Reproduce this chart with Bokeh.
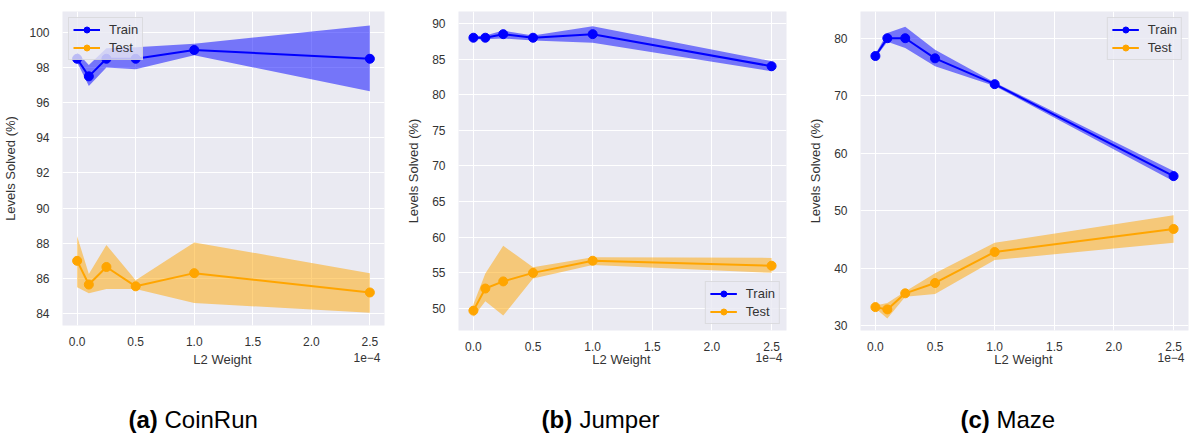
from bokeh.plotting import figure
from bokeh.layouts import row, column
from bokeh.models import FixedTicker, PrintfTickFormatter, Range1d
from bokeh.core.properties import value
from bokeh.embed import file_html
from bokeh.resources import INLINE

# L2 weight, in units of 1e-4
l2_weight = [0.0, 0.1, 0.25, 0.5, 1.0, 2.5]
x_ticks = [0.0, 0.5, 1.0, 1.5, 2.0, 2.5]
x_label = "L2 Weight"
x_offset_label = "1e\u22124"
y_label = "Levels Solved (%)"
panel_tags = ["(a)", "(b)", "(c)"]
panel_names = ["CoinRun", "Jumper", "Maze"]

coinrun_train = [98.5, 97.5, 98.5, 98.5, 99.0, 98.5]
coinrun_train_lo = [98.3, 96.95, 98.0, 97.9, 98.7, 96.65]
coinrun_train_hi = [98.85, 98.15, 99.1, 99.15, 99.35, 100.4]
coinrun_test = [87.0, 85.65, 86.65, 85.55, 86.3, 85.2]
coinrun_test_lo = [85.5, 85.15, 85.4, 85.4, 84.6, 84.05]
coinrun_test_hi = [88.4, 86.25, 87.9, 85.9, 88.05, 86.3]
coinrun_yticks = [84, 86, 88, 90, 92, 94, 96, 98, 100]

jumper_train = [88.0, 88.0, 88.5, 88.0, 88.5, 84.0]
jumper_train_lo = [87.8, 87.8, 87.9, 87.6, 87.3, 83.3]
jumper_train_hi = [88.2, 88.3, 89.0, 88.3, 89.6, 84.7]
jumper_test = [49.7, 52.8, 53.8, 55.0, 56.7, 56.0]
jumper_test_lo = [48.8, 51.0, 49.0, 54.2, 56.1, 55.0]
jumper_test_hi = [50.6, 54.9, 58.8, 55.8, 57.2, 57.1]
jumper_yticks = [50, 55, 60, 65, 70, 75, 80, 85, 90]

maze_train = [76.9, 80.0, 80.0, 76.5, 72.0, 56.0]
maze_train_lo = [76.6, 79.4, 78.3, 75.1, 71.7, 55.1]
maze_train_hi = [77.2, 80.9, 82.0, 78.0, 72.3, 56.9]
maze_test = [33.2, 32.8, 35.6, 37.4, 42.8, 46.8]
maze_test_lo = [33.0, 31.2, 35.0, 35.5, 41.4, 44.4]
maze_test_hi = [33.5, 33.9, 35.9, 39.1, 44.4, 49.2]
maze_yticks = [30, 40, 50, 60, 70, 80]

FONT = "Liberation Sans"
TXT = "#333333"
TOP_H = 352          # height of the row of panels
STRIP_H = 436 - TOP_H


def panel(train, train_lo, train_hi, test, test_lo, test_hi, yticks, yrange,
          frame_w, frame_h, bl, br, bt, legend_loc):
    bb = TOP_H - bt - frame_h
    p = figure(output_backend="svg", toolbar_location=None,
               frame_width=frame_w, frame_height=frame_h,
               min_border_left=bl, min_border_right=br,
               min_border_top=bt, min_border_bottom=bb,
               x_range=Range1d(-0.125, 2.625), y_range=Range1d(*yrange))
    p.background_fill_color = "#EAEAF2"
    p.border_fill_color = "white"
    p.outline_line_color = None
    for g in (p.xgrid, p.ygrid):
        g.grid_line_color = "white"
        g.grid_line_width = 1
    p.xaxis.ticker = FixedTicker(ticks=x_ticks)
    p.xaxis.formatter = PrintfTickFormatter(format="%.1f")
    p.yaxis.ticker = FixedTicker(ticks=yticks)
    for ax in (p.xaxis, p.yaxis):
        ax.axis_line_color = None
        ax.major_tick_line_color = None
        ax.minor_tick_line_color = None
        ax.major_tick_out = 0
        ax.major_tick_in = 0
        ax.major_label_text_font = FONT
        ax.major_label_text_font_size = "12px"
        ax.major_label_text_color = TXT
        ax.axis_label_text_font = FONT
        ax.axis_label_text_font_size = "13px"
        ax.axis_label_text_font_style = "normal"
        ax.axis_label_text_color = TXT
    p.xaxis.major_label_standoff = 11
    p.yaxis.major_label_standoff = 13
    p.yaxis.axis_label = y_label
    p.yaxis.axis_label_standoff = 8

    p.varea(x=l2_weight, y1=train_lo, y2=train_hi, fill_color="blue", fill_alpha=0.5)
    p.varea(x=l2_weight, y1=test_lo, y2=test_hi, fill_color="orange", fill_alpha=0.5)
    p.line(l2_weight, train, line_color="blue", line_width=2, legend_label="Train")
    p.scatter(l2_weight, train, size=9, fill_color="blue", line_color="blue", legend_label="Train")
    p.line(l2_weight, test, line_color="orange", line_width=2, legend_label="Test")
    p.scatter(l2_weight, test, size=9, fill_color="orange", line_color="orange", legend_label="Test")

    lg = p.legend[0]
    lg.location = legend_loc
    lg.margin = 6
    lg.padding = 4
    lg.spacing = 3
    lg.glyph_width = 27
    lg.glyph_height = 15
    lg.label_standoff = 9
    lg.label_text_font = FONT
    lg.label_text_font_size = "13px"
    lg.label_text_color = TXT
    lg.background_fill_color = "#EAEAF2"
    lg.background_fill_alpha = 0.8
    lg.border_line_color = "#cccccc"
    lg.border_line_width = 1
    return p


frame_left = [61, 457, 859]
frame_width = [322, 328, 328]

p1 = panel(coinrun_train, coinrun_train_lo, coinrun_train_hi,
           coinrun_test, coinrun_test_lo, coinrun_test_hi,
           coinrun_yticks, (83.32, 101.19), frame_width[0], 314, 61, 17, 11, "top_left")
p2 = panel(jumper_train, jumper_train_lo, jumper_train_hi,
           jumper_test, jumper_test_lo, jumper_test_hi,
           jumper_yticks, (46.91, 91.68), frame_width[1], 319, 57, 15, 5, "bottom_right")
p3 = panel(maze_train, maze_train_lo, maze_train_hi,
           maze_test, maze_test_lo, maze_test_hi,
           maze_yticks, (29.13, 84.65), frame_width[2], 319, 59, 6, 5, "top_right")

# bottom strip: x-axis titles, offset text and sub-captions (page pixel coordinates)
strip = figure(output_backend="svg", toolbar_location=None,
               frame_width=1193, frame_height=STRIP_H,
               min_border=0, min_border_left=0, min_border_right=0,
               min_border_top=0, min_border_bottom=0,
               x_range=Range1d(0, 1193), y_range=Range1d(436, TOP_H))
strip.axis.visible = False
strip.grid.visible = False
strip.outline_line_color = None
strip.background_fill_color = "white"
strip.border_fill_color = "white"

centers = [l + w / 2 for l, w in zip(frame_left, frame_width)]
rights = [l + w - 3 for l, w in zip(frame_left, frame_width)]
strip.text(x=centers, y=[359] * 3, text=[x_label] * 3,
           text_font=value(FONT), text_font_size=value("13px"), text_color=TXT,
           text_align="center", text_baseline="middle")
strip.text(x=rights, y=[357] * 3, text=[x_offset_label] * 3,
           text_font=value(FONT), text_font_size=value("12px"), text_color=TXT,
           text_align="right", text_baseline="middle")

cap_left = [128, 541, 960]
tag_w = [29, 31, 29]
strip.text(x=cap_left, y=[419] * 3, text=panel_tags,
           text_font=value(FONT), text_font_size=value("24px"), text_font_style="bold",
           text_color="black", text_align="left", text_baseline="middle")
strip.text(x=[c + w + 7 for c, w in zip(cap_left, tag_w)], y=[419] * 3, text=panel_names,
           text_font=value(FONT), text_font_size=value("24px"),
           text_color="black", text_align="left", text_baseline="middle")

layout = column(row(p1, p2, p3, spacing=0), strip, spacing=0)
open("out.html", "w").write(file_html(layout, INLINE))
